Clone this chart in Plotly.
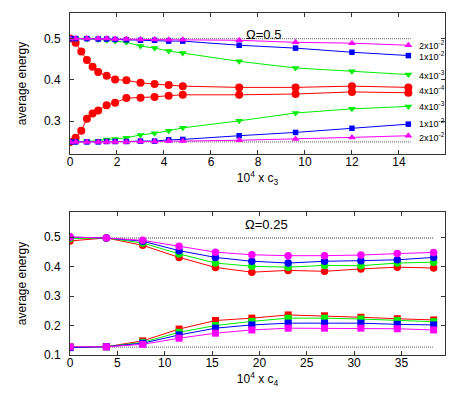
import plotly.graph_objects as go
from plotly.subplots import make_subplots

# ---------------- top panel: Omega = 0.5, x = 10^4 c3 ----------------
x_red = [0, 0.24, 0.48, 0.72, 0.96, 1.2, 1.56, 1.92, 2.4, 3.0, 3.6, 4.2, 4.8, 7.2, 9.6, 12.0, 14.4]
red_up = [0.5, 0.49, 0.469, 0.448, 0.432, 0.419, 0.410, 0.401, 0.399, 0.393, 0.390, 0.388, 0.385,
          0.382, 0.382, 0.385, 0.382]
red_lo = [0.25, 0.26, 0.277, 0.306, 0.319, 0.326, 0.339, 0.345, 0.356, 0.357, 0.359, 0.362, 0.364,
          0.364, 0.366, 0.371, 0.369]

x_oth = [0, 0.24, 0.72, 1.2, 1.56, 1.92, 2.4, 3.0, 3.6, 4.2, 4.8, 7.2, 9.6, 12.0, 14.4]
green_up = [0.5, 0.5, 0.499, 0.498, 0.496, 0.494, 0.491, 0.482, 0.477, 0.470, 0.465, 0.445, 0.429, 0.421, 0.413]
green_lo = [0.25, 0.25, 0.251, 0.253, 0.256, 0.257, 0.26, 0.267, 0.271, 0.277, 0.284, 0.301, 0.32, 0.33, 0.336]
blue_up = [0.5, 0.5, 0.5, 0.499, 0.499, 0.498, 0.497, 0.496, 0.496, 0.494, 0.494, 0.484, 0.477, 0.467, 0.459]
blue_lo = [0.25, 0.25, 0.25, 0.25, 0.251, 0.251, 0.251, 0.252, 0.252, 0.255, 0.256, 0.265, 0.273, 0.283, 0.293]
mag_up = [0.5, 0.5, 0.5, 0.5, 0.5, 0.499, 0.499, 0.498, 0.498, 0.497, 0.497, 0.496, 0.491, 0.489, 0.484]
mag_lo = [0.25, 0.25, 0.25, 0.25, 0.25, 0.25, 0.25, 0.251, 0.251, 0.252, 0.252, 0.254, 0.257, 0.261, 0.265]

ref_top_x = [0, 14.5]
ref_top_hi = 0.5
ref_top_lo = 0.25

end_labels = ["2x10<sup>-2</sup>", "1x10<sup>-2</sup>", "4x10<sup>-3</sup>", "4x10<sup>-4</sup>",
              "4x10<sup>-3</sup>", "1x10<sup>-2</sup>", "2x10<sup>-2</sup>"]
end_label_y = [0.4855, 0.457, 0.413, 0.375, 0.338, 0.296, 0.262]

# ---------------- bottom panel: Omega = 0.25, x = 10^4 c4 ----------------
xb = [0, 3.84, 7.68, 11.52, 15.36, 19.2, 23.04, 26.88, 30.72, 34.56, 38.4]
b_mag_up = [0.5, 0.497, 0.489, 0.469, 0.449, 0.440, 0.437, 0.437, 0.439, 0.444, 0.448]
b_blue_up = [0.5, 0.497, 0.486, 0.454, 0.431, 0.418, 0.412, 0.418, 0.420, 0.423, 0.431]
b_green_up = [0.495, 0.497, 0.480, 0.443, 0.412, 0.401, 0.398, 0.404, 0.403, 0.412, 0.415]
b_red_up = [0.487, 0.497, 0.472, 0.431, 0.397, 0.381, 0.387, 0.384, 0.392, 0.398, 0.395]
b_red_lo = [0.127, 0.128, 0.148, 0.188, 0.217, 0.225, 0.236, 0.233, 0.228, 0.223, 0.219]
b_green_lo = [0.127, 0.128, 0.143, 0.177, 0.200, 0.214, 0.225, 0.225, 0.222, 0.217, 0.213]
b_blue_lo = [0.125, 0.128, 0.140, 0.168, 0.191, 0.202, 0.208, 0.208, 0.208, 0.204, 0.202]
b_mag_lo = [0.128, 0.128, 0.136, 0.157, 0.174, 0.185, 0.191, 0.191, 0.191, 0.189, 0.185]

ref_bot_x = [0, 38.4]
ref_bot_hi = 0.497
ref_bot_lo = 0.127

RED, GREEN, BLUE, MAG = "#ff0000", "#00ee00", "#0000ff", "#ff00ff"
FONT = "Liberation Sans, Arial, sans-serif"

fig = make_subplots(rows=2, cols=1)


def line(x, y, color, symbol, size, row):
    fig.add_trace(go.Scatter(
        x=x, y=y, mode="lines+markers",
        line=dict(color=color, width=1),
        marker=dict(color=color, symbol=symbol, size=size, line=dict(width=0)),
        showlegend=False,
    ), row=row, col=1)


def dotted(x, yval, row):
    fig.add_trace(go.Scatter(
        x=x, y=[yval, yval], mode="lines",
        line=dict(color="#808080", width=1.3, dash="1px,1px"),
        showlegend=False,
    ), row=row, col=1)


# top
dotted(ref_top_x, ref_top_hi, 1)
dotted(ref_top_x, ref_top_lo, 1)
line(x_red, red_up, RED, "circle", 8, 1)
line(x_red, red_lo, RED, "circle", 8, 1)
line(x_oth, green_up, GREEN, "triangle-down", 7, 1)
line(x_oth, green_lo, GREEN, "triangle-down", 7, 1)
line(x_oth, blue_up, BLUE, "square", 5.5, 1)
line(x_oth, blue_lo, BLUE, "square", 5.5, 1)
line(x_oth, mag_up, MAG, "triangle-up", 7, 1)
line(x_oth, mag_lo, MAG, "triangle-up", 7, 1)

for txt, yv in zip(end_labels, end_label_y):
    fig.add_annotation(x=14.75, y=yv, xref="x", yref="y", text=txt, showarrow=False,
                       xanchor="left", font=dict(size=9, color="black", family=FONT))

# bottom
dotted(ref_bot_x, ref_bot_hi, 2)
dotted(ref_bot_x, ref_bot_lo, 2)
for ys, c in [(b_red_up, RED), (b_green_up, GREEN), (b_blue_up, BLUE), (b_mag_up, MAG)]:
    line(xb, ys, c, "circle", 7.5, 2)
for ys, c in [(b_red_lo, RED), (b_green_lo, GREEN), (b_blue_lo, BLUE), (b_mag_lo, MAG)]:
    line(xb, ys, c, "square", 7, 2)

fig.add_annotation(x=0.515, y=0.965, xref="paper", yref="paper", text="Ω=0.5", showarrow=False,
                   font=dict(size=13, color="black", family=FONT))
fig.add_annotation(x=0.525, y=0.383, xref="paper", yref="paper", text="Ω=0.25", showarrow=False,
                   font=dict(size=13, color="black", family=FONT))

axis_style = dict(showline=True, linecolor="#333333", linewidth=1, mirror="allticks",
                  ticks="inside", ticklen=4, tickcolor="#333333", showgrid=False, zeroline=False,
                  tickfont=dict(size=12, color="black", family=FONT))

fig.update_xaxes(**axis_style, ticklabelstandoff=-3)
fig.update_yaxes(**axis_style, ticklabelstandoff=6)

fig.update_xaxes(range=[0, 15.96], tickvals=[0, 2, 4, 6, 8, 10, 12, 14],
                 domain=[0, 1], row=1, col=1,
                 title=dict(text="10<sup>4</sup> x c<sub>3</sub>", standoff=4,
                            font=dict(size=12, color="black", family=FONT)))
fig.update_yaxes(range=[0.221, 0.562], tickvals=[0.3, 0.4, 0.5], ticktext=["0.3", "0.4", "0.5"],
                 domain=[0.588, 1.0], row=1, col=1,
                 title=dict(text="average energy", standoff=14,
                            font=dict(size=12, color="black", family=FONT)))
fig.update_xaxes(range=[0, 39.6], tickvals=[0, 5, 10, 15, 20, 25, 30, 35],
                 domain=[0, 1], row=2, col=1,
                 title=dict(text="10<sup>4</sup> x c<sub>4</sub>", standoff=4,
                            font=dict(size=12, color="black", family=FONT)))
fig.update_yaxes(range=[0.1, 0.585], tickvals=[0.1, 0.2, 0.3, 0.4, 0.5],
                 ticktext=["0.1", "0.2", "0.3", "0.4", "0.5"],
                 domain=[0.0, 0.418], row=2, col=1,
                 title=dict(text="average energy", standoff=14,
                            font=dict(size=12, color="black", family=FONT)))

fig.update_layout(
    width=461, height=394,
    margin=dict(l=62, r=24, t=5, b=47),
    paper_bgcolor="white", plot_bgcolor="white",
    font=dict(family=FONT, color="black"),
)

fig.write_html("out.html")
